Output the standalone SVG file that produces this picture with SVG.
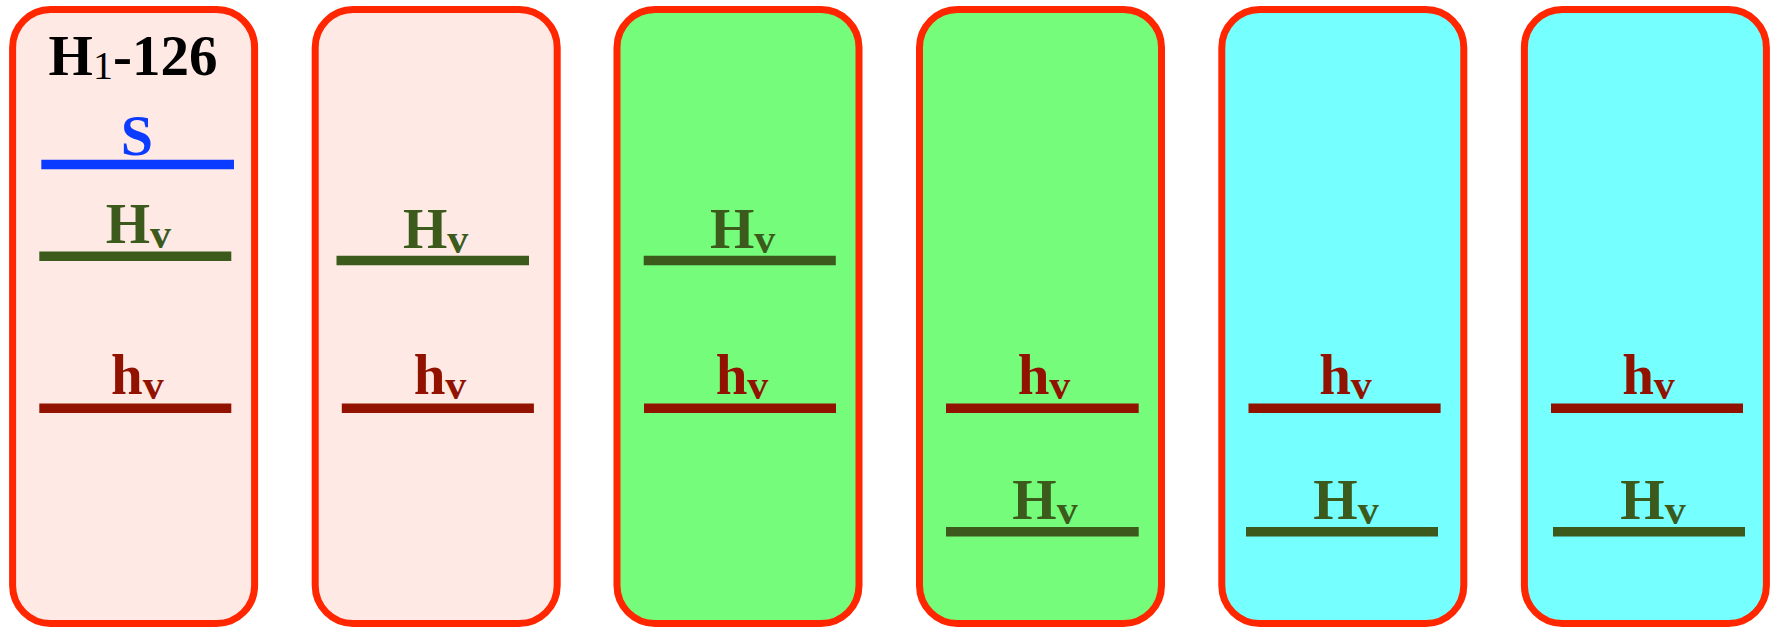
<svg xmlns="http://www.w3.org/2000/svg" width="1773" height="627" viewBox="0 0 1773 627">
<style>
.panel{stroke:#FF2600;stroke-width:7}
.pink{fill:#FFE9E4}
.green{fill:#75FC7A}
.cyan{fill:#75FFFF}
.lv{stroke-width:9.5;fill:none}
.ls{stroke:#0A3BFF}
.lH{stroke:#3B5A1C}
.lh{stroke:#921200}
text{font-family:"Liberation Serif","Times New Roman",serif;font-weight:bold;font-size:57px;text-anchor:middle}
.tH{fill:#3B5A1C}
.th{fill:#921200}
.ts{fill:#0A3BFF;font-size:58px}
.tt{fill:#000}
.sub{font-size:42px}
.sub1{font-size:40px;font-weight:normal}
</style>
<g id="panel1">
<rect class="panel pink" x="12.6" y="9.5" width="242" height="614" rx="38" ry="38"/>
<text class="tt" x="133" y="75">H<tspan class="sub1" dy="3.5">1</tspan><tspan dy="-3.5">-126</tspan></text>
<text class="ts" x="137" y="155">S</text>
<line class="lv ls" x1="41.3" y1="164.5" x2="234" y2="164.5"/>
<text class="tH" x="138.3" y="243.3">H<tspan class="sub" dy="5">v</tspan></text>
<line class="lv lH" x1="39.3" y1="256.3" x2="231.3" y2="256.3"/>
<text class="th" x="137.3" y="394.3">h<tspan class="sub" dy="4.7">v</tspan></text>
<line class="lv lh" x1="39.3" y1="408.3" x2="231.3" y2="408.3"/>
</g>
<g id="panel2">
<rect class="panel pink" x="315.2" y="9.5" width="242" height="614" rx="38" ry="38"/>
<text class="tH" x="435.7" y="248">H<tspan class="sub" dy="5">v</tspan></text>
<line class="lv lH" x1="336.5" y1="260.6" x2="529" y2="260.6"/>
<text class="th" x="440" y="394.3">h<tspan class="sub" dy="4.7">v</tspan></text>
<line class="lv lh" x1="341.8" y1="408.3" x2="533.9" y2="408.3"/>
</g>
<g id="panel3">
<rect class="panel green" x="617" y="9.5" width="242" height="614" rx="38" ry="38"/>
<text class="tH" x="742.7" y="248">H<tspan class="sub" dy="5">v</tspan></text>
<line class="lv lH" x1="643.7" y1="260.6" x2="835.8" y2="260.6"/>
<text class="th" x="742" y="394.3">h<tspan class="sub" dy="4.7">v</tspan></text>
<line class="lv lh" x1="644" y1="408.3" x2="836" y2="408.3"/>
</g>
<g id="panel4">
<rect class="panel green" x="919.5" y="9.5" width="242" height="614" rx="38" ry="38"/>
<text class="th" x="1044" y="394.3">h<tspan class="sub" dy="4.7">v</tspan></text>
<line class="lv lh" x1="946" y1="408.3" x2="1138.7" y2="408.3"/>
<text class="tH" x="1045" y="519.3">H<tspan class="sub" dy="5">v</tspan></text>
<line class="lv lH" x1="946" y1="531.7" x2="1138.7" y2="531.7"/>
</g>
<g id="panel5">
<rect class="panel cyan" x="1221.8" y="9.5" width="242" height="614" rx="38" ry="38"/>
<text class="th" x="1345.5" y="394.3">h<tspan class="sub" dy="4.7">v</tspan></text>
<line class="lv lh" x1="1248.5" y1="408.3" x2="1440.6" y2="408.3"/>
<text class="tH" x="1346" y="519.3">H<tspan class="sub" dy="5">v</tspan></text>
<line class="lv lH" x1="1246" y1="531.7" x2="1438" y2="531.7"/>
</g>
<g id="panel6">
<rect class="panel cyan" x="1524.4" y="9.5" width="242" height="614" rx="38" ry="38"/>
<text class="th" x="1648.5" y="394.3">h<tspan class="sub" dy="4.7">v</tspan></text>
<line class="lv lh" x1="1551" y1="408.3" x2="1743" y2="408.3"/>
<text class="tH" x="1653" y="519.3">H<tspan class="sub" dy="5">v</tspan></text>
<line class="lv lH" x1="1553" y1="531.7" x2="1745" y2="531.7"/>
</g>
<g id="connectors"/>
</svg>
